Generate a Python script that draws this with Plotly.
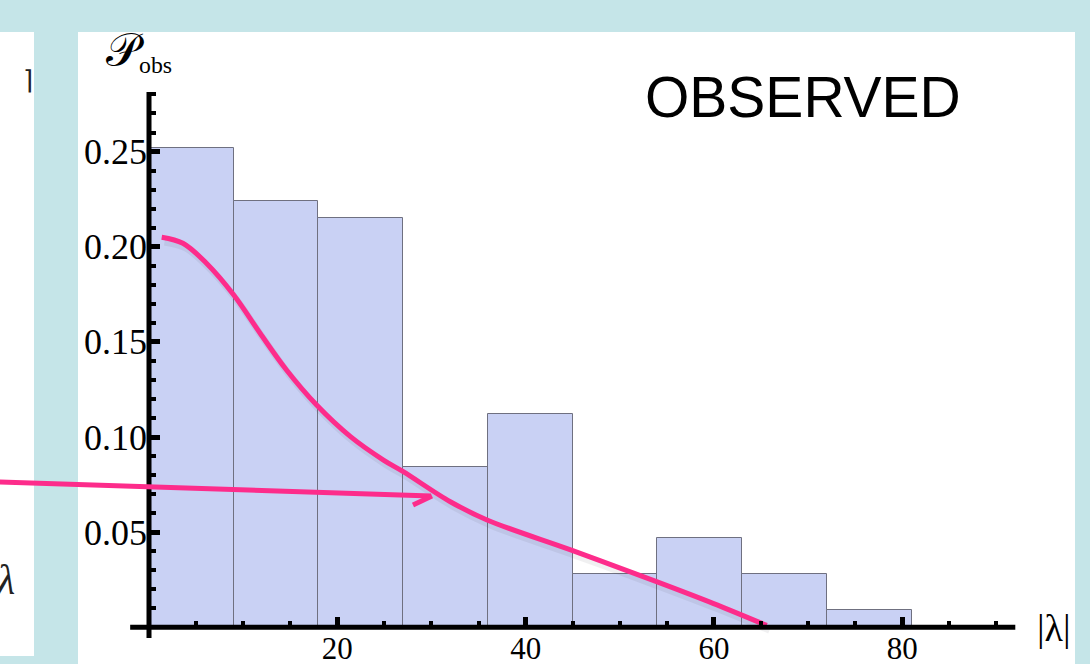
import plotly.graph_objects as go

# Histogram of observed |lambda| values (bin edges and normalised heights)
bin_edges = [0, 9, 18, 27, 36, 45, 54, 63, 72, 81]
bin_heights = [0.252, 0.224, 0.215, 0.084, 0.112, 0.028, 0.047, 0.028, 0.009]

# Overlaid model curve
curve_x = [1.35, 3.6, 6.1, 9.0, 11.8, 14.6, 17.8, 21.4, 24.9, 27.0, 32.0, 35.9, 45.0, 53.9, 59.9, 65.6]
curve_y = [0.205, 0.2018, 0.1913, 0.1746, 0.1545, 0.1352, 0.1168, 0.1002, 0.0879, 0.0818, 0.066, 0.0564, 0.0403, 0.024, 0.0126, 0.001]

# Axis ticks
x_major = [20, 40, 60, 80]
x_minor = [5, 10, 15, 25, 30, 35, 45, 50, 55, 65, 70, 75, 85, 90]
y_major = [0.05, 0.10, 0.15, 0.20, 0.25]
y_major_text = ["0.05", "0.10", "0.15", "0.20", "0.25"]
y_minor = [0.01, 0.02, 0.03, 0.04, 0.06, 0.07, 0.08, 0.09, 0.11, 0.12, 0.13, 0.14,
           0.16, 0.17, 0.18, 0.19, 0.21, 0.22, 0.23, 0.24, 0.26, 0.27, 0.28]

W, H = 1090, 664
ML, MR, MT, MB = 78, 15, 32, 0
PW, PH = W - ML - MR, H - MT - MB

TEAL = "#c5e5e8"
PINK = "#fd2c8b"
SERIF = "Liberation Serif, Times New Roman, serif"


def px(xp):
    return (xp - ML) / PW


def py(yp):
    return (H - yp) / PH


centers = [(a + b) / 2 for a, b in zip(bin_edges[:-1], bin_edges[1:])]
widths = [b - a for a, b in zip(bin_edges[:-1], bin_edges[1:])]

fig = go.Figure()
fig.add_trace(go.Bar(
    x=centers, y=bin_heights, width=widths,
    marker=dict(color="#c9d1f4", line=dict(color="#6f7080", width=1)),
    hoverinfo="skip", showlegend=False,
))
# soft drop shadow under the curve
fig.add_trace(go.Scatter(
    x=[v + 0.3 for v in curve_x], y=[v - 0.0025 for v in curve_y],
    mode="lines", line=dict(color="rgba(60,60,80,0.08)", width=7, shape="spline", smoothing=1.0),
    hoverinfo="skip", showlegend=False,
))
fig.add_trace(go.Scatter(
    x=curve_x, y=curve_y, mode="lines",
    line=dict(color=PINK, width=5, shape="spline", smoothing=1.0),
    hoverinfo="skip", showlegend=False,
))

shapes = [
    # white side panel on the left
    dict(type="rect", xref="paper", yref="paper", x0=px(-10), x1=px(34), y0=py(656), y1=py(32),
         fillcolor="white", line=dict(width=0), layer="below"),
    # axes
    dict(type="line", xref="x", yref="y", x0=-2, x1=92, y0=0, y1=0,
         line=dict(color="black", width=5), layer="above"),
    dict(type="line", xref="x", yref="y", x0=0, x1=0, y0=-0.0056, y1=0.2813,
         line=dict(color="black", width=5), layer="above"),
    # pointer arrow
    dict(type="line", xref="paper", yref="paper", x0=px(-2), y0=py(482), x1=px(431), y1=py(496),
         line=dict(color=PINK, width=5), layer="above"),
    dict(type="line", xref="paper", yref="paper", x0=px(413), y0=py(505), x1=px(432), y1=py(496),
         line=dict(color=PINK, width=5), layer="above"),
]

annotations = [
    dict(text="OBSERVED", xref="paper", yref="paper", x=px(803), y=py(97),
         xanchor="center", yanchor="middle", showarrow=False,
         font=dict(family="Liberation Sans, Arial, sans-serif", size=57, color="black")),
    dict(text="|λ|", xref="paper", yref="paper", x=px(1054), y=py(628),
         xanchor="center", yanchor="middle", showarrow=False,
         font=dict(family=SERIF, size=38, color="black")),
    dict(text="<span style='font-size:46px'>𝒫</span><sub>obs</sub>", xref="paper", yref="paper",
         x=px(104), y=py(52), xanchor="left", yanchor="middle", showarrow=False,
         font=dict(family=SERIF, size=34, color="black")),
    dict(text="⌉", xref="paper", yref="paper", x=px(28), y=py(80),
         xanchor="center", yanchor="middle", showarrow=False,
         font=dict(family="DejaVu Sans", size=26, color="#222")),
    dict(text="<i>λ</i>", xref="paper", yref="paper", x=px(5), y=py(580),
         xanchor="center", yanchor="middle", showarrow=False,
         font=dict(family=SERIF, size=42, color="#222")),
]

fig.update_layout(
    width=W, height=H,
    margin=dict(l=ML, r=MR, t=MT, b=MB, pad=0, autoexpand=False),
    paper_bgcolor=TEAL, plot_bgcolor="white",
    bargap=0, showlegend=False,
    shapes=shapes, annotations=annotations,
    xaxis=dict(
        range=[-7.540, 98.34], anchor="free", position=py(627.3), automargin=False,
        showline=False, showgrid=False, zeroline=False,
        ticks="inside", ticklen=10, tickwidth=5, tickcolor="black",
        tickmode="array", tickvals=x_major, ticktext=[str(v) for v in x_major],
        tickfont=dict(family=SERIF, size=31, color="black"),
        minor=dict(tickmode="array", tickvals=x_minor, ticks="inside",
                   ticklen=6, tickwidth=4, tickcolor="black", showgrid=False),
        fixedrange=True,
    ),
    yaxis=dict(
        range=[-0.019285, 0.31282], anchor="free", position=px(149), automargin=False,
        showline=False, showgrid=False, zeroline=False,
        ticks="inside", ticklen=10, tickwidth=5, tickcolor="black",
        tickmode="array", tickvals=y_major, ticktext=y_major_text,
        tickfont=dict(family=SERIF, size=36, color="black"),
        ticklabelstandoff=2,
        minor=dict(tickmode="array", tickvals=y_minor, ticks="inside",
                   ticklen=6, tickwidth=4, tickcolor="black", showgrid=False),
        fixedrange=True,
    ),
)

fig.write_html("out.html")
